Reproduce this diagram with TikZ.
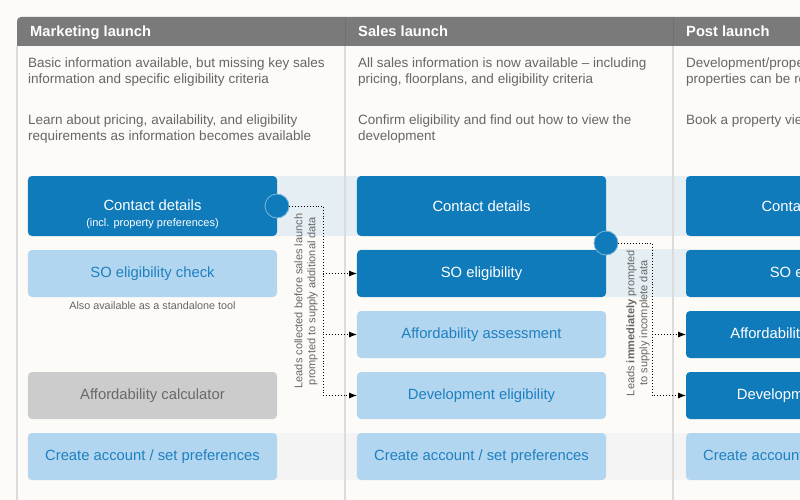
\documentclass[tikz,border=0pt]{standalone}
\usepackage{fontspec}
\setmainfont{Liberation Sans}
\usepackage{tikz}
\usetikzlibrary{arrows.meta, positioning, calc, matrix}

\definecolor{paper}{RGB}{253,251,247}
\definecolor{headgrey}{RGB}{122,122,122}
\definecolor{headrule}{RGB}{112,112,112}
\definecolor{rulegrey}{RGB}{220,220,220}
\definecolor{bodygrey}{RGB}{102,102,102}
\definecolor{soblue}{RGB}{16,123,187}
\definecolor{paleblue}{RGB}{178,214,240}
\definecolor{paletext}{RGB}{30,128,192}
\definecolor{calcgrey}{RGB}{204,204,204}
\definecolor{calctext}{RGB}{105,105,105}
\definecolor{bandblue}{RGB}{228,238,243}
\definecolor{bandgrey}{RGB}{243,244,243}

\newcommand{\contactpref}{\raisebox{0pt}[22pt][14pt]{\begin{tabular}[t]{@{}c@{}}Contact details\\[-1pt]{\fontsize{11}{12}\selectfont (incl. property preferences)}\end{tabular}}}

\begin{document}
\begin{tikzpicture}[x=1pt, y=-1pt,
    headtext/.style={anchor=base west, inner sep=0pt, text=white, font=\fontsize{14.7}{17}\selectfont\bfseries},
    blurb/.style={anchor=north west, inner sep=0pt, align=left, text=bodygrey, font=\fontsize{13.5}{16}\selectfont},
    note/.style={align=center, inner sep=0pt, text=bodygrey, font=\fontsize{11}{13}\selectfont},
    box/.style={rounded corners=4pt, minimum width=249pt, minimum height=47pt, inner sep=3pt, anchor=center, font=\fontsize{14.8}{17}\selectfont},
    dark/.style={fill=soblue, text=white},
    light/.style={fill=paleblue, text=paletext},
    greyed/.style={fill=calcgrey, text=calctext},
    junction/.style={circle, minimum size=24pt, inner sep=0pt, fill=soblue, draw=soblue!55!white, line width=0.8pt},
    lead/.style={dotted, line width=0.9pt, -{Latex[length=8pt, width=6pt]}}
  ]
  \useasboundingbox (0,0) rectangle (800,500);
  \clip (0,0) rectangle (800,500);
  \fill[paper] (0,0) rectangle (800,500);

  \fill[bandblue] (28,176) rectangle (800,236);
  \fill[bandblue] (358,249) rectangle (800,297);
  \fill[bandgrey] (28,433) rectangle (800,480);

  \fill[headgrey] (17,46) -- (17,21) arc[start angle=180, end angle=270, radius=4] -- (810,17) -- (810,46) -- cycle;
  \draw[headrule, line width=1pt] (345,17) -- (345,46) (673,17) -- (673,46);
  \draw[rulegrey, line width=1.2pt] (17,46) -- (17,500) (345,46) -- (345,500) (673,46) -- (673,500);

  \node[headtext] (h-mkt) at (30,36.5) {Marketing launch};
  \node[headtext] (h-sales) at (358,36.5) {Sales launch};
  \node[headtext] (h-post) at (686,36.5) {Post launch};

  \node[blurb] (mkt-a) at (28,58) {Basic information available, but missing key sales\\information and specific eligibility criteria};
  \node[blurb] (mkt-b) at (28,115) {Learn about pricing, availability, and eligibility\\requirements as information becomes available};
  \node[blurb] (sales-a) at (358,58) {All sales information is now available -- including\\pricing, floorplans, and eligibility criteria};
  \node[blurb] (sales-b) at (358,115) {Confirm eligibility and find out how to view the\\development};
  \node[blurb] (post-a) at (686,58) {Development/property information is final and\\properties can be reserved};
  \node[blurb] (post-b) at (686,115) {Book a property viewing};

  \matrix (flow) [matrix of nodes, anchor=north west, inner sep=0pt, outer sep=0pt,
    nodes={box},
    row sep=14pt,
    column sep=80pt,
    row 1/.style={nodes={minimum height=60pt}},
    ampersand replacement=\&
    ] at (28,176) {
    |[dark]| \contactpref \& |[dark]| Contact details \& |[dark]| Contact details \\
    |[light]| SO eligibility check \& |[dark]| SO eligibility \& |[dark]| SO eligibility \\
    \& |[light]| Affordability assessment \& |[dark]| Affordability assessment \\
    |[greyed]| Affordability calculator \& |[light]| Development eligibility \& |[dark]| Development eligibility \\
    |[light]| Create account / set preferences \& |[light]| Create account / set preferences \& |[light]| Create account / set preferences \\
  };

  \node[note, below=4pt of flow-2-1, font=\fontsize{10.8}{12}\selectfont] (standalone) {Also available as a standalone tool};

  \node[junction] (tie1) at (flow-1-1.east) {};
  \node[junction] (tie2) at ($(flow-1-2.south east)!0.5!(flow-2-2.north east)$) {};

  \coordinate (split1) at ($(tie1.east)+(34,0)$);
  \coordinate (split2) at ($(tie2.east)+(34,0)$);
  \draw[lead] (tie1.east) -- (split1) |- (flow-4-2.west);
  \draw[lead] (split1 |- flow-2-2.west) -- (flow-2-2.west);
  \draw[lead] (split1 |- flow-3-2.west) -- (flow-3-2.west);
  \draw[lead] (tie2.east) -- (split2) |- (flow-4-3.west);
  \draw[lead] (split2 |- flow-3-3.west) -- (flow-3-3.west);

  \node[note, rotate=90] (why1) at (306,301) {Leads collected before sales launch\\prompted to supply additional data};
  \node[note, rotate=90] (why2) at (638,323) {Leads \textbf{immediately} prompted\\to supply incomplete data};
\end{tikzpicture}
\end{document}
